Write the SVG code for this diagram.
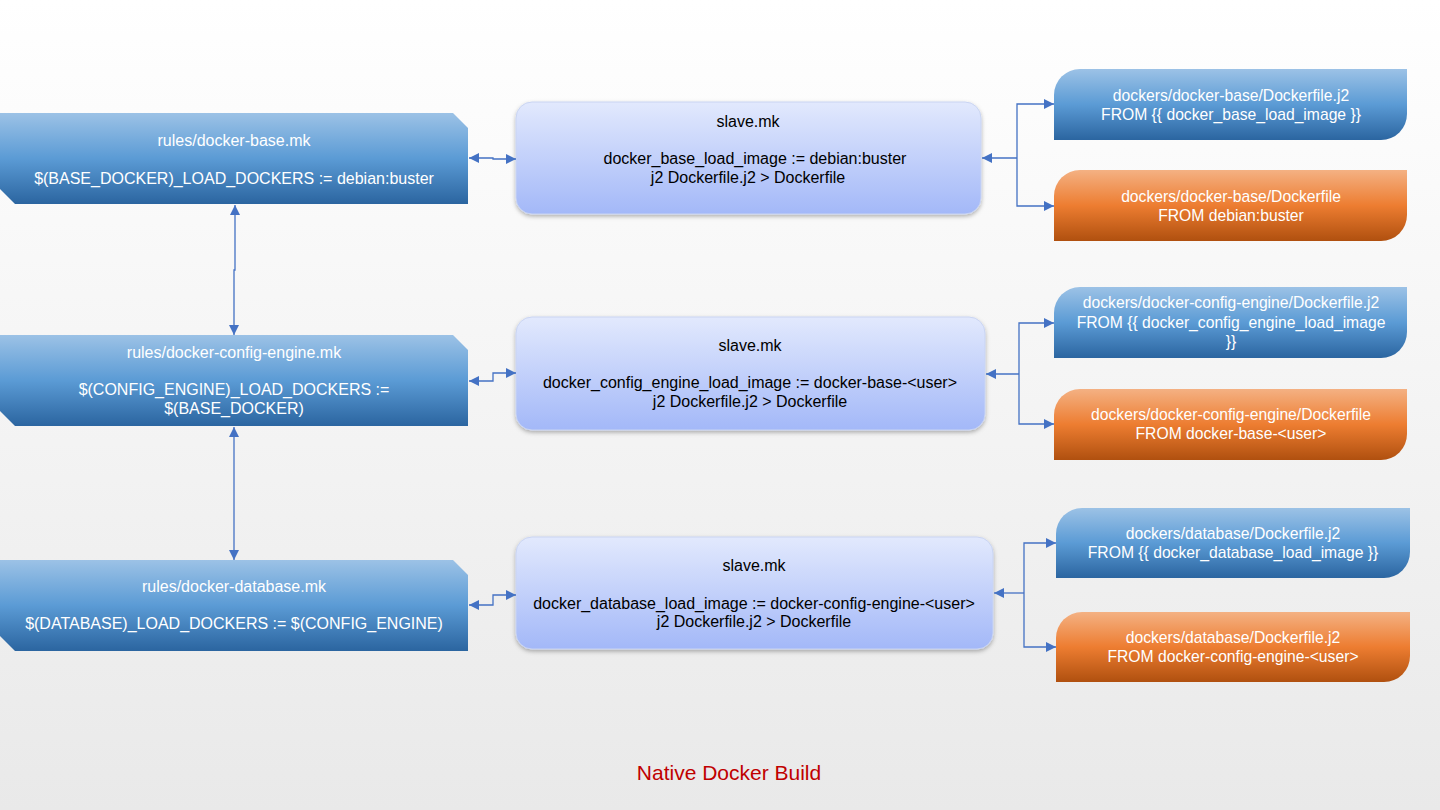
<svg xmlns="http://www.w3.org/2000/svg" width="1440" height="810" viewBox="0 0 1440 810">
<defs>
<linearGradient id="bg" x1="0" y1="0" x2="0" y2="1"><stop offset="0" stop-color="#ffffff"/><stop offset="1" stop-color="#e9e9e9"/></linearGradient>
<linearGradient id="gBlue" x1="0" y1="0" x2="0" y2="1"><stop offset="0" stop-color="#9cc2e6"/><stop offset="0.5" stop-color="#5b9bd5"/><stop offset="1" stop-color="#2b65a0"/></linearGradient>
<linearGradient id="gOrange" x1="0" y1="0" x2="0" y2="1"><stop offset="0" stop-color="#f4b183"/><stop offset="0.5" stop-color="#ed7d31"/><stop offset="1" stop-color="#b0500f"/></linearGradient>
<linearGradient id="gMid" x1="0" y1="0" x2="0" y2="1"><stop offset="0" stop-color="#e2e9fd"/><stop offset="1" stop-color="#a3b8f8"/></linearGradient>
<filter id="sh" x="-5%" y="-10%" width="110%" height="130%"><feDropShadow dx="0" dy="2" stdDeviation="2" flood-color="#000" flood-opacity="0.3"/></filter>
<marker id="ah" viewBox="0 0 10 10" refX="10" refY="5" markerWidth="10" markerHeight="10" markerUnits="userSpaceOnUse" orient="auto-start-reverse"><path d="M0,0 L10,5 L0,10 z" fill="#4472c4"/></marker>
</defs>
<style>
.wt{font-family:"Liberation Sans",Arial,sans-serif;font-size:16px;fill:#ffffff;text-anchor:middle}
.rt{font-family:"Liberation Sans",Arial,sans-serif;font-size:15.7px;fill:#ffffff;text-anchor:middle}
.bt{font-family:"Liberation Sans",Arial,sans-serif;font-size:16px;fill:#000000;text-anchor:middle}
.mid{fill:url(#gMid);stroke:#c9d4f2;stroke-width:1;filter:url(#sh)}
.con{fill:none;stroke:#4472c4;stroke-width:1.3}
</style>
<rect x="0" y="0" width="1440" height="810" fill="url(#bg)"/>

<g id="rules-base">
<path d="M0,113 H453 L468,128 V204 H15 L0,189 Z" fill="url(#gBlue)"/>
<text class="wt" x="234" y="146">rules/docker-base.mk</text>
<text class="wt" x="234" y="184">$(BASE_DOCKER)_LOAD_DOCKERS := debian:buster</text>
</g>
<g id="rules-config-engine">
<path d="M0,335 H453 L468,350 V426 H15 L0,411 Z" fill="url(#gBlue)"/>
<text class="wt" x="234" y="358">rules/docker-config-engine.mk</text>
<text class="wt" x="234" y="395">$(CONFIG_ENGINE)_LOAD_DOCKERS :=</text>
<text class="wt" x="234" y="414">$(BASE_DOCKER)</text>
</g>
<g id="rules-database">
<path d="M0,560 H453 L468,575 V651 H15 L0,636 Z" fill="url(#gBlue)"/>
<text class="wt" x="234" y="592">rules/docker-database.mk</text>
<text class="wt" x="234" y="629">$(DATABASE)_LOAD_DOCKERS := $(CONFIG_ENGINE)</text>
</g>

<g id="slave-base">
<rect class="mid" x="516" y="102" width="465" height="112" rx="16"/>
<text class="bt" x="748" y="127">slave.mk</text>
<text class="bt" x="755" y="164">docker_base_load_image := debian:buster</text>
<text class="bt" x="748" y="183">j2 Dockerfile.j2 &gt; Dockerfile</text>
</g>
<g id="slave-config-engine">
<rect class="mid" x="516" y="317" width="469" height="113" rx="16"/>
<text class="bt" x="750" y="351">slave.mk</text>
<text class="bt" x="750" y="388">docker_config_engine_load_image := docker-base-&lt;user&gt;</text>
<text class="bt" x="750" y="407">j2 Dockerfile.j2 &gt; Dockerfile</text>
</g>
<g id="slave-database">
<rect class="mid" x="516" y="537" width="477" height="112" rx="16"/>
<text class="bt" x="754" y="571">slave.mk</text>
<text class="bt" x="754" y="609">docker_database_load_image := docker-config-engine-&lt;user&gt;</text>
<text class="bt" x="754" y="627">j2 Dockerfile.j2 &gt; Dockerfile</text>
</g>

<g id="base-j2">
<path d="M1080,69 H1407 V114 A26,26 0 0 1 1381,140 H1054 V95 A26,26 0 0 1 1080,69 Z" fill="url(#gBlue)"/>
<text class="rt" x="1231" y="101">dockers/docker-base/Dockerfile.j2</text>
<text class="rt" x="1231" y="120">FROM {{ docker_base_load_image }}</text>
</g>
<g id="base-dockerfile">
<path d="M1080,170 H1407 V215 A26,26 0 0 1 1381,241 H1054 V196 A26,26 0 0 1 1080,170 Z" fill="url(#gOrange)"/>
<text class="rt" x="1231" y="202">dockers/docker-base/Dockerfile</text>
<text class="rt" x="1231" y="221">FROM debian:buster</text>
</g>
<g id="config-engine-j2">
<path d="M1080,287 H1407 V332 A26,26 0 0 1 1381,358 H1054 V313 A26,26 0 0 1 1080,287 Z" fill="url(#gBlue)"/>
<text class="rt" x="1231" y="308">dockers/docker-config-engine/Dockerfile.j2</text>
<text class="rt" x="1231" y="328">FROM {{ docker_config_engine_load_image</text>
<text class="rt" x="1231" y="347">}}</text>
</g>
<g id="config-engine-dockerfile">
<path d="M1080,389 H1407 V434 A26,26 0 0 1 1381,460 H1054 V415 A26,26 0 0 1 1080,389 Z" fill="url(#gOrange)"/>
<text class="rt" x="1231" y="420">dockers/docker-config-engine/Dockerfile</text>
<text class="rt" x="1231" y="439">FROM docker-base-&lt;user&gt;</text>
</g>
<g id="database-j2">
<path d="M1082,508 H1410 V552 A26,26 0 0 1 1384,578 H1056 V534 A26,26 0 0 1 1082,508 Z" fill="url(#gBlue)"/>
<text class="rt" x="1233" y="539">dockers/database/Dockerfile.j2</text>
<text class="rt" x="1233" y="558">FROM {{ docker_database_load_image }}</text>
</g>
<g id="database-dockerfile">
<path d="M1082,612 H1410 V656 A26,26 0 0 1 1384,682 H1056 V638 A26,26 0 0 1 1082,612 Z" fill="url(#gOrange)"/>
<text class="rt" x="1233" y="643">dockers/database/Dockerfile.j2</text>
<text class="rt" x="1233" y="662">FROM docker-config-engine-&lt;user&gt;</text>
</g>

<g id="connectors">
<path class="con" d="M469,158 H493 V159 H516" marker-start="url(#ah)" marker-end="url(#ah)"/>
<path class="con" d="M469,381 H493 V373 H516" marker-start="url(#ah)" marker-end="url(#ah)"/>
<path class="con" d="M469,605 H493 V595 H516" marker-start="url(#ah)" marker-end="url(#ah)"/>
<path class="con" d="M235,205 V270 H234 V335" marker-start="url(#ah)" marker-end="url(#ah)"/>
<path class="con" d="M234,427 V560" marker-start="url(#ah)" marker-end="url(#ah)"/>
<path class="con" d="M982,158 H1017"  marker-start="url(#ah)"/>
<path class="con" d="M1054,104 H1017 V206 H1054" marker-start="url(#ah)" marker-end="url(#ah)"/>
<path class="con" d="M986,374 H1019" marker-start="url(#ah)"/>
<path class="con" d="M1054,323 H1019 V424 H1054" marker-start="url(#ah)" marker-end="url(#ah)"/>
<path class="con" d="M994,593 H1024" marker-start="url(#ah)"/>
<path class="con" d="M1056,543 H1024 V647 H1056" marker-start="url(#ah)" marker-end="url(#ah)"/>
</g>

<text x="729" y="780" font-family="'Liberation Sans',Arial,sans-serif" font-size="21" fill="#c00000" text-anchor="middle">Native Docker Build</text>
</svg>
